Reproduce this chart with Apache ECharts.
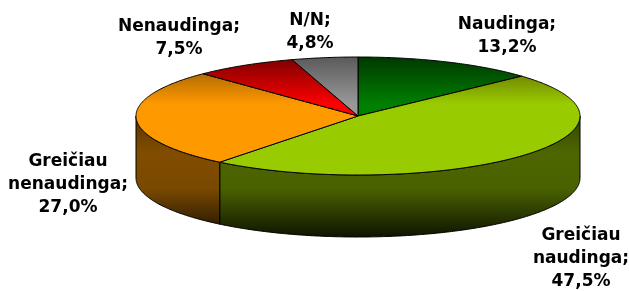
<!DOCTYPE html>
<html><head><meta charset="utf-8">
<script src="https://cdn.jsdelivr.net/npm/echarts@6/dist/echarts.min.js"></script>
<style>html,body{margin:0;padding:0;background:#fff}#c{width:629px;height:291px}</style>
</head><body><div id="c"></div>
<script>
// ---- data ----
var categories = ['Naudinga', 'Greičiau naudinga', 'Greičiau nenaudinga', 'Nenaudinga', 'N/N'];
var values = [13.2, 47.5, 27.0, 7.5, 4.8];
var colors = ['#008000', '#99CC00', '#FF9900', '#FF0000', '#999999'];
var topDark = ['#003800', '#5a5e00', '#8a5400', '#7a0000', '#5a5a5a'];
// ---- layout (not data) ----
var geo = {cx: 358, cy: 116, rx: 222, ry: 59, depth: 62};
var labelLayout = [[507, 36], [581, 259], [68, 185], [179, 38], [310, 32]];
var labelText = [categories[0] + ';', 'Greičiau\nnaudinga;', 'Greičiau\nnenaudinga;', categories[3] + ';', categories[4] + ';'];

function shade(hex, f) {
  var n = parseInt(hex.slice(1), 16);
  var r = Math.round(((n >> 16) & 255) * f), g = Math.round(((n >> 8) & 255) * f), b = Math.round((n & 255) * f);
  return 'rgb(' + r + ',' + g + ',' + b + ')';
}
function pt(theta, dy) {
  return [geo.cx + geo.rx * Math.sin(theta), geo.cy - geo.ry * Math.cos(theta) + (dy || 0)];
}
function arc(a0, a1, dy) {
  var pts = [], n = Math.max(2, Math.ceil(Math.abs(a1 - a0) / 0.01));
  for (var i = 0; i <= n; i++) pts.push(pt(a0 + (a1 - a0) * i / n, dy));
  return pts;
}
var total = values.reduce(function (s, v) { return s + v; }, 0);

var chart = echarts.init(document.getElementById('c'), null, {renderer: 'canvas'});
chart.setOption({
  animation: false,
  series: [{
    type: 'custom',
    coordinateSystem: 'none',
    data: values.map(function (v, i) { return {name: categories[i], value: v}; }),
    renderItem: function (params, api) {
      var i = params.dataIndex;
      var before = 0;
      for (var k = 0; k < i; k++) before += values[k];
      var v = api.value(0);
      var a0 = before / total * Math.PI * 2, a1 = (before + v) / total * Math.PI * 2;
      var base = colors[i];
      var children = [];
      // side wall (front half only: angles between 90° and 270°)
      var s = Math.max(a0, Math.PI / 2), e = Math.min(a1, Math.PI * 1.5);
      if (e > s) {
        var top = arc(s, e, 0), bot = arc(e, s, geo.depth);
        children.push({
          type: 'polygon',
          shape: {points: top.concat(bot)},
          style: {
            fill: new echarts.graphic.LinearGradient(0, geo.cy, 0, geo.cy + geo.ry + geo.depth, [
              {offset: 0, color: shade(base, 0.34)},
              {offset: 0.3, color: shade(base, 0.5)},
              {offset: 0.6, color: shade(base, 0.48)},
              {offset: 1, color: shade(base, 0.1)}
            ], true),
            stroke: '#000', lineWidth: 1
          }
        });
      }
      // top face
      var tpts = [[geo.cx, geo.cy]].concat(arc(a0, a1, 0));
      children.push({
        type: 'polygon',
        shape: {points: tpts},
        style: {
          fill: new echarts.graphic.LinearGradient(0, geo.cy - geo.ry, 0, geo.cy + geo.ry, [
            {offset: 0, color: topDark[i]},
            {offset: 0.4, color: base},
            {offset: 1, color: base}
          ], true),
          stroke: '#000', lineWidth: 1, lineJoin: 'round'
        }
      });
      // label
      var lp = labelLayout[i];
      children.push({
        type: 'text',
        x: lp[0], y: lp[1],
        style: {
          text: labelText[i] + '\n' + v.toFixed(1).replace('.', ',') + '%',
          fill: '#000',
          font: 'bold 17px "DejaVu Sans", Verdana, sans-serif',
          lineHeight: 23,
          align: 'center',
          verticalAlign: 'middle'
        }
      });
      return {type: 'group', children: children};
    }
  }]
});
</script></body></html>
